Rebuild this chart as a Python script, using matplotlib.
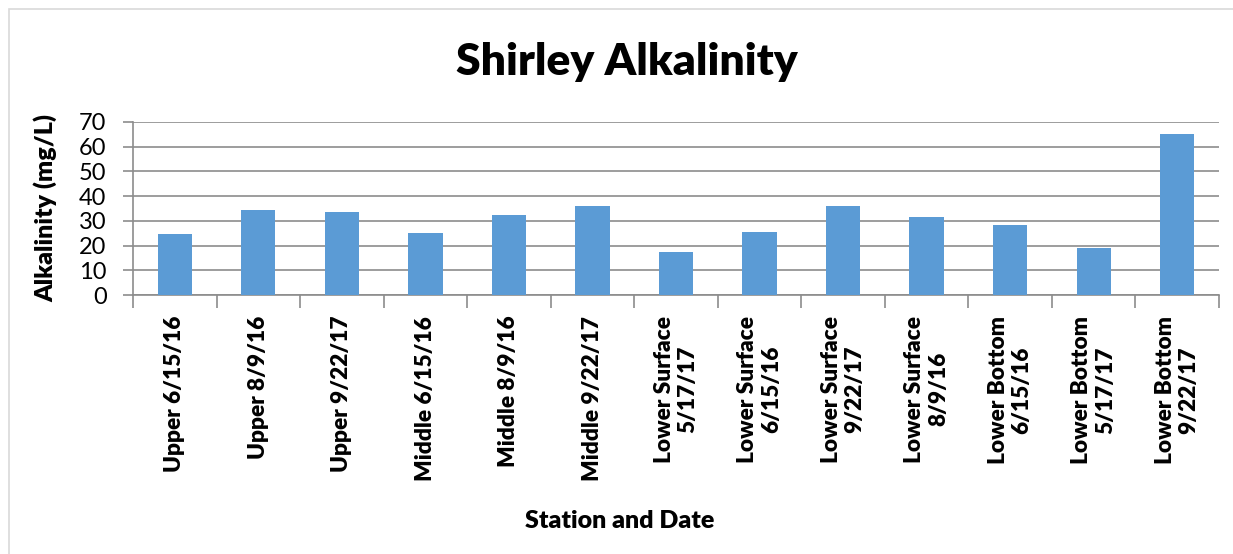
# Shirley Alkalinity bar chart

import matplotlib.pyplot as plt
import numpy as np
from matplotlib.patches import Rectangle

plt.rcParams['font.family'] = ['Lato', 'DejaVu Sans']

stations = ['Upper 6/15/16', 'Upper 8/9/16', 'Upper 9/22/17',
            'Middle 6/15/16', 'Middle 8/9/16', 'Middle 9/22/17',
            'Lower Surface\n5/17/17', 'Lower Surface\n6/15/16',
            'Lower Surface\n9/22/17', 'Lower Surface\n8/9/16',
            'Lower Bottom\n6/15/16', 'Lower Bottom\n5/17/17',
            'Lower Bottom\n9/22/17']
alkalinity = [24.6, 34.3, 33.6, 25.1, 32.4, 36.2,
              17.5, 25.3, 36.2, 31.7, 28.5, 19.0, 65.2]
yticks = [0, 10, 20, 30, 40, 50, 60, 70]

W, H = 1233, 554
fig = plt.figure(figsize=(W / 100, H / 100), dpi=100)
fig.patches.append(Rectangle((9 / W, -0.1), 1.2, (H - 9) / H + 0.1,
                             transform=fig.transFigure, fill=False,
                             edgecolor='#d9d9d9', linewidth=1.2))

ax = fig.add_axes([133 / W, (H - 295) / H, (1219 - 133) / W, (295 - 122) / H])
x = np.arange(len(stations))
ax.bar(x, alkalinity, width=0.41, color='#5b9bd5', zorder=3)

ax.set_xlim(-0.5, len(stations) - 0.5)
ax.set_ylim(0, 70)
ax.set_yticks(yticks)
ax.set_yticklabels([str(v) for v in yticks], fontsize=17)
ax.yaxis.grid(True, color='#8c8c8c', linewidth=1.2, zorder=0)

ax.set_xticks(x)
ax.set_xticklabels(stations, rotation=90, fontsize=16.3, fontweight='heavy',
                   ha='center', va='top', multialignment='center',
                   linespacing=1.15)
ax.set_xticks(np.arange(len(stations) + 1) - 0.5, minor=True)
ax.tick_params(axis='x', which='major', length=0, pad=15)
ax.tick_params(axis='x', which='minor', length=9, color='#8c8c8c', width=1.2)
ax.tick_params(axis='y', length=7, color='#8c8c8c', width=1.2, pad=12)

for side in ['top', 'right']:
    ax.spines[side].set_visible(False)
for side in ['left', 'bottom']:
    ax.spines[side].set_color('#8c8c8c')
    ax.spines[side].set_linewidth(1.2)

ax.set_ylabel('Alkalinity (mg/L)', fontsize=18, fontweight='heavy')
ax.yaxis.set_label_coords((57 - 133) / (1219 - 133), 0.5)
fig.text(620 / W, 1 - 521 / H, 'Station and Date', fontsize=18,
         fontweight='heavy', ha='center', va='center')
fig.text(627 / W, 1 - 62 / H, 'Shirley Alkalinity', fontsize=32,
         fontweight='heavy', ha='center', va='center')

fig.savefig('out.png', dpi=100)
